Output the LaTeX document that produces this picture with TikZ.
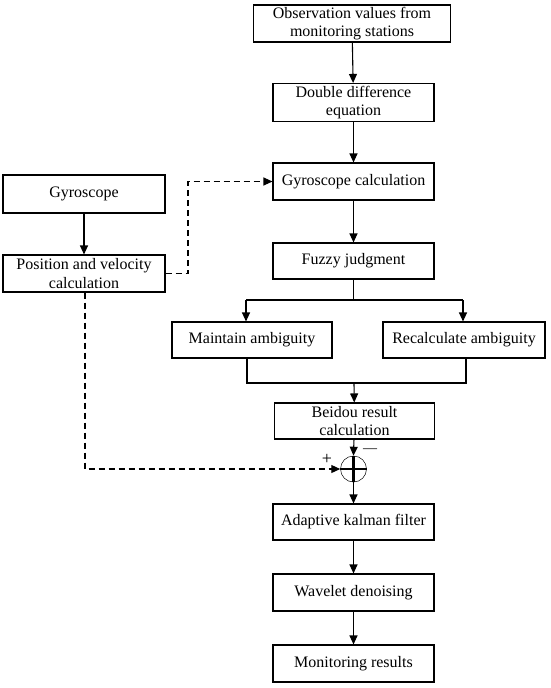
\documentclass[tikz,border=0pt]{standalone}
\usepackage{fontspec}
\setmainfont{Liberation Serif}
\usetikzlibrary{positioning}
\usetikzlibrary{arrows.meta}

\tikzset{
  box/.style={rectangle,draw,line width=1.1pt,align=center,inner sep=0pt,
    minimum width=161pt,minimum height=37pt,font=\fontsize{16}{18.5}\selectfont},
  arr/.style={line width=1.1pt,-{Triangle[length=9pt,width=8pt]}},
  darr/.style={arr,dash pattern=on 6pt off 4pt},
  ln/.style={line width=1.1pt},
  sign/.style={font=\fontsize{18}{18}\selectfont,inner sep=0pt,text height=4pt,text depth=0pt}
}

\begin{document}
\begin{tikzpicture}[x=1pt,y=-1pt]
\useasboundingbox (0,0) rectangle (550,688);

% main column
\node[box,minimum width=197pt] (obs) at (352,23.5) {Observation values from\\monitoring stations};
\node[box,minimum height=38pt] (dde) at (353.5,102.5) {Double difference\\equation};
\node[box] (gcalc) at (353.5,181.5) {Gyroscope calculation};
\node[box,minimum height=36pt] (fuzzy) at (353.5,261) {Fuzzy judgment};
\node[box,minimum width=160pt,minimum height=36pt] (maintain) at (252,340) {Maintain ambiguity};
\node[box,minimum width=162pt,minimum height=36pt] (recalc) at (464,340) {Recalculate ambiguity};
\node[box,minimum width=160pt,minimum height=36pt] (beidou) at (354.5,421) {Beidou result\\calculation};
\node[circle,draw,line width=0.5pt,minimum size=26pt,inner sep=0pt] (sum) at (353.5,469) {};
\node[box,minimum height=36pt] (kalman) at (353.5,522) {Adaptive kalman filter};
\node[box] (wavelet) at (353.5,592.5) {Wavelet denoising};
\node[box] (monitor) at (353.5,663.5) {Monitoring results};

% left column
\node[box,minimum width=162pt,minimum height=38pt] (gyro) at (84,194) {Gyroscope};
\node[box,minimum width=162pt] (posvel) at (84,273.5) {Position and velocity\\calculation};

% split and merge points
\coordinate (split) at (353.5,300);
\coordinate (splitL) at (246,300);
\coordinate (splitR) at (463,300);
\coordinate (mergeL) at (247,383);
\coordinate (mergeR) at (466,383);
\coordinate (merge) at (354,383);
\coordinate (dashA) at (188,273.5);
\coordinate (dashB) at (188,181.5);
\coordinate (dashC) at (85,469);

\draw[arr] (obs) -- (dde);
\draw[arr] (dde) -- (gcalc);
\draw[arr] (gcalc) -- (fuzzy);
\draw[ln] (fuzzy) -- (split);
\draw[ln] (splitL) -- (splitR);
\draw[arr] (splitL) -- (splitL |- maintain.north);
\draw[arr] (splitR) -- (splitR |- recalc.north);
\draw[ln] (mergeL |- maintain.south) -- (mergeL) -- (mergeR) -- (mergeR |- recalc.south);
\draw[arr] (merge) -- (beidou);
\draw[arr] (beidou) -- (sum.north);
\draw[line width=2.4pt] (sum.north) -- (sum.south);
\draw[line width=1.8pt] (sum.west) -- (sum.east);
\draw[arr] (sum) -- (kalman);
\draw[arr] (kalman) -- (wavelet);
\draw[arr] (wavelet) -- (monitor);

\draw[arr] (gyro) -- (posvel);
\draw[darr] (posvel.east) -- (dashA) -- (dashB) -- (gcalc.west);
\draw[darr] (posvel.south -| dashC) -- (dashC) -- (sum.west);

\node[sign] (plus) at (327,462) {+};
\node[sign,font=\fontsize{14}{14}\selectfont] (minus) at (370,450) {—};

\end{tikzpicture}
\end{document}
